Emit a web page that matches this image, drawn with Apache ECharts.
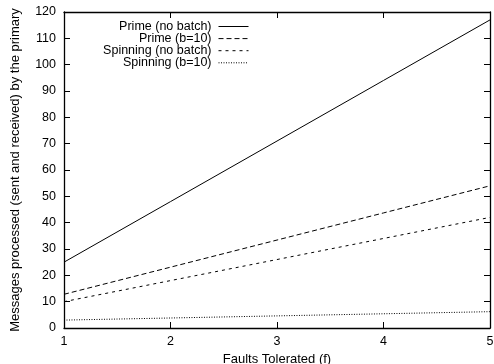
<!DOCTYPE html>
<html><head><meta charset="utf-8">
<script src="https://cdn.jsdelivr.net/npm/echarts@6/dist/echarts.min.js"></script>
<style>html,body{margin:0;padding:0;background:#fff}#c{width:494px;height:364px}</style>
</head><body><div id="c"></div>
<script>
const faults = [1, 2, 3, 4, 5];
const seriesNames = ['Prime (no batch)', 'Prime (b=10)', 'Spinning (no batch)', 'Spinning (b=10)'];
const primeNoBatch = [25, 48, 71, 94, 117];
const primeB10 = [12.8, 23.1, 33.4, 43.7, 54];
const spinningNoBatch = [10, 18, 26, 34, 42];
const spinningB10 = [3, 3.8, 4.6, 5.4, 6.2];
const yTicks = [0, 10, 20, 30, 40, 50, 60, 70, 80, 90, 100, 110, 120];

const allValues = [primeNoBatch, primeB10, spinningNoBatch, spinningB10];
const dashes = ['solid', [5, 3], [3, 4], [1, 1.5]];
const font = 'Liberation Sans, Arial, Helvetica, sans-serif';

const chart = echarts.init(document.getElementById('c'));
const axisCommon = {
  axisLine: {show: true, onZero: false, lineStyle: {color: '#000', width: 1.3}},
  axisTick: {show: true, inside: true, length: 6, lineStyle: {color: '#000'}},
  splitLine: {show: false}
};
chart.setOption({
  animation: false,
  backgroundColor: '#fff',
  textStyle: {fontFamily: font},
  grid: {left: 64, right: 4, top: 12, bottom: 36, containLabel: false, outerBoundsMode: 'none'},
  legend: {
    orient: 'vertical', right: 240, top: 15, align: 'right',
    itemWidth: 30, itemHeight: 11, itemGap: -0.9,
    itemStyle: {opacity: 0},
    lineStyle: {width: 1},
    textStyle: {fontSize: 12.5, lineHeight: 11, color: '#000', fontFamily: font, padding: [0, 2, 0, 0]},
    data: seriesNames
  },
  xAxis: [
    Object.assign({type: 'value', min: 1, max: 5, interval: 1, position: 'bottom',
      name: 'Faults Tolerated (f)', nameLocation: 'middle', nameGap: 22,
      nameTextStyle: {fontSize: 13, color: '#000', fontFamily: font},
      axisLabel: {color: '#000', fontSize: 12.5, margin: 7, fontFamily: font}}, axisCommon),
    Object.assign({type: 'value', min: 1, max: 5, interval: 1, position: 'top',
      axisLabel: {show: false}}, axisCommon)
  ],
  yAxis: [
    Object.assign({type: 'value', min: yTicks[0], max: yTicks[yTicks.length - 1], interval: 10, position: 'left',
      name: 'Messages processed (sent and received) by the primary', nameLocation: 'middle', nameGap: 42,
      nameTextStyle: {fontSize: 13, color: '#000', fontFamily: font},
      axisLabel: {color: '#000', fontSize: 12.5, margin: 8, fontFamily: font}}, axisCommon),
    Object.assign({type: 'value', min: yTicks[0], max: yTicks[yTicks.length - 1], interval: 10, position: 'right',
      axisLabel: {show: false}}, axisCommon)
  ],
  series: seriesNames.map((n, i) => ({
    name: n, type: 'line', showSymbol: false, symbol: 'none',
    data: faults.map((f, j) => [f, allValues[i][j]]),
    lineStyle: {color: '#000', width: 1, type: dashes[i]},
    itemStyle: {color: '#000'}
  }))
});
</script></body></html>
